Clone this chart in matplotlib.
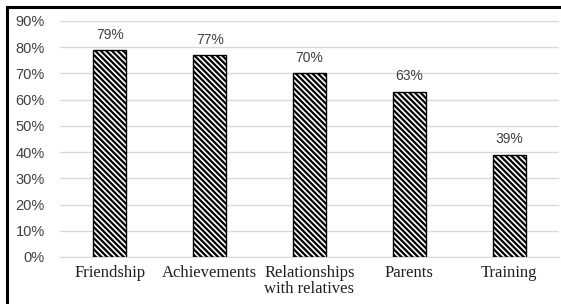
import matplotlib
matplotlib.use('Agg')
import matplotlib.pyplot as plt
from matplotlib.lines import Line2D

# Data
categories = ['Friendship', 'Achievements', 'Relationships\nwith relatives', 'Parents', 'Training']
values = [79, 77, 70, 63, 39]
yticks = [0, 10, 20, 30, 40, 50, 60, 70, 80, 90]

plt.rcParams['hatch.linewidth'] = 1.6

W, H = 561, 304
fig = plt.figure(figsize=(W / 100, H / 100), dpi=100)
ax = fig.add_axes([60 / W, (H - 257) / H, (559 - 60) / W, (257 - 21) / H])

x = list(range(len(categories)))
ax.bar(x, values, width=0.33, color='white', edgecolor='black',
       linewidth=1.0, hatch='\\\\\\\\\\\\', zorder=3)

# value labels
for xi, v in zip(x, values):
    ax.annotate(f'{v}%', (xi, v), xytext=(0, 6), textcoords='offset points',
                ha='center', va='bottom', fontsize=10, color='#404040',
                family='Liberation Sans')

ax.set_xlim(-0.5, len(categories) - 0.5)
ax.set_ylim(0, 90)
ax.set_yticks(yticks)
ax.set_yticklabels([f'{t}%' for t in yticks], family='Liberation Sans',
                   fontsize=10.5, color='#404040')
ax.set_xticks(x)
ax.set_xticklabels(categories, family='Liberation Serif', fontsize=12,
                   color='#202020', linespacing=0.95)
ax.tick_params(axis='y', length=0, pad=11)
ax.tick_params(axis='x', length=0, pad=6)

ax.yaxis.grid(True, color='#d9d9d9', linewidth=1.0, zorder=0)
ax.set_axisbelow(True)
for side in ['top', 'right', 'left']:
    ax.spines[side].set_visible(False)
ax.spines['bottom'].set_color('#d9d9d9')

# outer frame (cropped screenshot: only top and left edges visible)
fig.add_artist(Line2D([7 / W, 1], [1 - 7 / H, 1 - 7 / H], color='black', linewidth=2.2))
fig.add_artist(Line2D([7 / W, 7 / W], [0, 1 - 7 / H], color='black', linewidth=2.2))

fig.savefig('out.png', dpi=100, facecolor='white')
